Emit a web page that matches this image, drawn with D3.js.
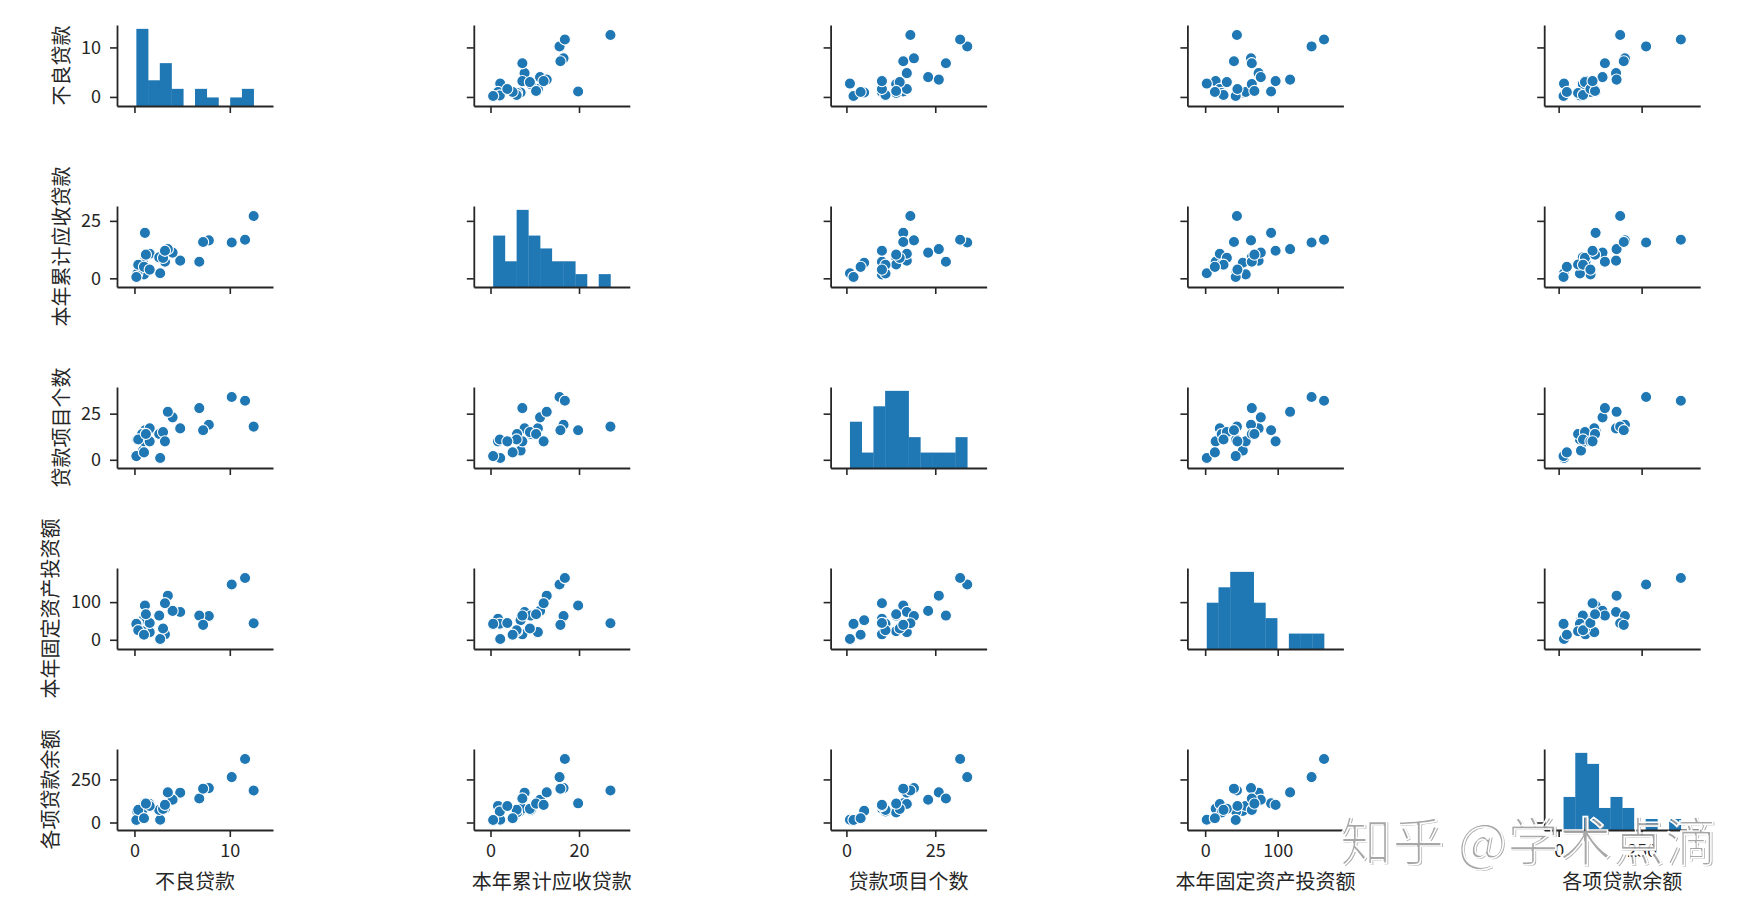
<!DOCTYPE html>
<html><head><meta charset="utf-8">
<script src="https://cdn.jsdelivr.net/npm/d3@7"></script>
<style>
body{margin:0;background:#fff}
svg{display:block}
text{font-family:"Noto Sans CJK SC","Noto Sans",sans-serif}
</style>
</head><body>
<svg id="c" width="1764" height="914"></svg>
<script>
// Variables (pairplot order)
const varNames = ["不良贷款","本年累计应收贷款","贷款项目个数","本年固定资产投资额","各项贷款余额"];
// 25 observations
const badLoan     = [0.9,1.1,4.8,3.2,7.8,2.7,1.6,12.5,1.0,2.6,0.3,4.0,0.8,3.5,10.2,3.0,0.2,0.4,1.0,6.8,11.6,1.6,1.2,7.2,3.2];
const receivable  = [6.8,19.8,7.7,7.2,16.5,2.2,10.7,27.1,1.7,9.1,2.1,11.2,6.0,12.7,15.6,8.9,0.6,5.9,5.0,7.2,16.8,3.8,10.3,15.8,12.0];
const projects    = [5,16,17,10,19,1,17,18,10,14,11,23,14,26,34,15,2,11,4,28,32,10,14,16,10];
const fixedInvest = [51.9,90.9,73.7,14.5,63.2,2.2,20.2,43.8,55.9,64.3,42.7,76.7,22.8,117.1,146.7,29.9,42.1,25.3,13.4,64.3,163.9,44.5,67.9,39.7,97.1];
const loanBalance = [67.3,111.3,173.0,80.8,199.7,16.2,107.4,185.4,96.1,72.8,64.2,132.2,58.6,174.6,263.5,79.3,14.8,73.5,24.7,139.4,368.2,95.7,109.6,196.2,102.2];
// Tick labels
const xTickVals = [[0,10],[0,20],[0,25],[0,100],[0,250]];
const yTickVals = [[0,10],[0,25],[0,25],[0,100],[0,250]];
const watermarkText = "知乎 @学术点滴";

const columns = [badLoan, receivable, projects, fixedInvest, loanBalance];

const svg = d3.select("#c");
const n = varNames.length;
const left0 = 117, colStep = 356.8, axW = 156;
const top0 = 25, rowStep = 181, axH = 81;
const pad = 0.165;
const color = "#1f77b4";
const ink = "#262626";

const domains = columns.map(v => {
  const [a, b] = d3.extent(v);
  const r = b - a;
  return [a - pad * r, b + pad * r];
});

function styleAxis(g){
  g.select(".domain").attr("stroke", ink).attr("stroke-width", 1.8);
  g.selectAll(".tick line").attr("stroke", ink).attr("stroke-width", 1.6);
  g.selectAll(".tick text").attr("fill", ink).style("font-size", "18px")
    .style("font-family", '"Noto Sans CJK SC","Noto Sans",sans-serif');
}

for (let i = 0; i < n; i++) {
  for (let j = 0; j < n; j++) {
    const x0 = left0 + j * colStep, y0 = top0 + i * rowStep;
    const xs = d3.scaleLinear().domain(domains[j]).range([0, axW]);
    const ys = d3.scaleLinear().domain(domains[i]).range([axH, 0]);
    const g = svg.append("g").attr("transform", `translate(${x0},${y0})`);

    if (i === j) {
      const vals = columns[j];
      const [mn, mx] = d3.extent(vals);
      const thr = d3.range(1, 10).map(k => mn + k * (mx - mn) / 10);
      const bins = d3.bin().domain([mn, mx]).thresholds(thr)(vals);
      const hy = d3.scaleLinear().domain([0, d3.max(bins, b => b.length) * 1.05]).range([axH, 0]);
      g.selectAll("rect.bar").data(bins).join("rect")
        .attr("class", "bar")
        .attr("x", b => xs(b.x0))
        .attr("width", b => Math.max(0, xs(b.x1) - xs(b.x0)) + 0.3)
        .attr("y", b => hy(b.length))
        .attr("height", b => axH - hy(b.length))
        .attr("fill", color);
    } else {
      const pts = columns[j].map((v, k) => [v, columns[i][k]]);
      g.selectAll("circle").data(pts).join("circle")
        .attr("cx", d => xs(d[0]))
        .attr("cy", d => ys(d[1]))
        .attr("r", 5.6)
        .attr("fill", color)
        .attr("stroke", "#fff")
        .attr("stroke-width", 1.1);
    }

    // bottom axis
    const xa = d3.axisBottom(xs).tickValues(xTickVals[j]).tickSize(7).tickSizeOuter(0).tickPadding(7);
    if (i !== n - 1) xa.tickFormat("");
    const gx = g.append("g").attr("transform", `translate(0,${axH})`).call(xa);
    styleAxis(gx);

    // left axis
    const ya = d3.axisLeft(ys).tickValues(yTickVals[i]).tickSize(7).tickSizeOuter(0).tickPadding(9);
    if (j !== 0) ya.tickFormat("");
    const gy = g.append("g").call(ya);
    styleAxis(gy);

    if (i === n - 1) {
      g.append("text").attr("x", axW / 2).attr("y", 880 - y0)
        .attr("text-anchor", "middle").attr("dominant-baseline", "central")
        .attr("fill", ink).style("font-size", "20px").text(varNames[j]);
    }
    if (j === 0) {
      const maxDigits = d3.max(yTickVals[i], v => String(v).length);
      const lx = 60 - (maxDigits - 2) * 11;
      g.append("text")
        .attr("transform", `translate(${lx - x0},${axH / 2}) rotate(-90)`)
        .attr("text-anchor", "middle").attr("dominant-baseline", "central")
        .attr("fill", ink).style("font-size", "20px").text(varNames[i]);
    }
  }
}

// watermark
const wm = svg.append("g");
wm.append("text").attr("x", 1341).attr("y", 862)
  .attr("textLength", 377).attr("lengthAdjust", "spacing")
  .attr("fill", "#a0a0a0").attr("opacity", 0.92)
  .style("font-size", "52px").text(watermarkText);
wm.append("text").attr("x", 1339.5).attr("y", 860.5)
  .attr("textLength", 377).attr("lengthAdjust", "spacing")
  .attr("fill", "none").attr("stroke", "#fff").attr("stroke-width", 1.6)
  .style("font-size", "52px").text(watermarkText);
</script>
</body></html>
